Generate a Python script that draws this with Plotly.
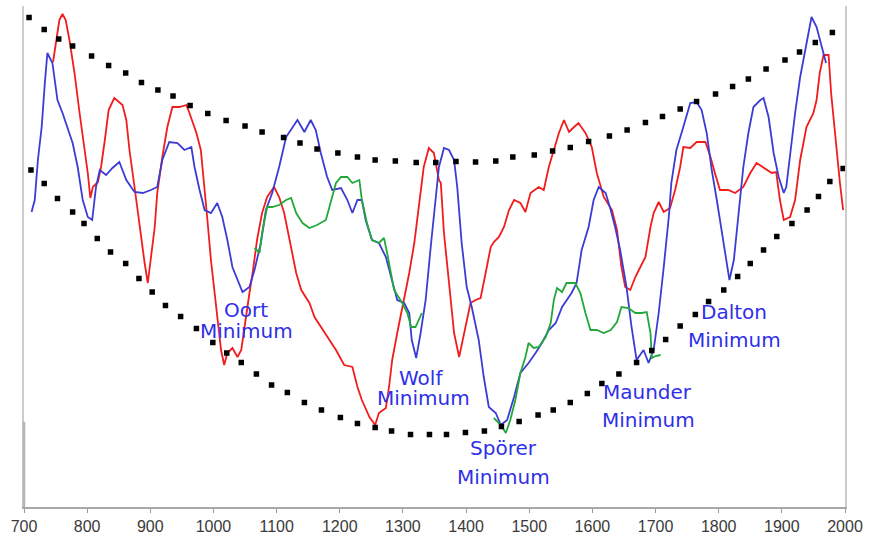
import plotly.graph_objects as go

# Reconstructed records (index units, 0-100)
red_year = [746, 751, 756, 761, 766, 772, 780, 788, 796, 801, 805, 809, 817, 822, 828, 834, 843, 856, 862,
            867, 875, 883, 891, 896, 901, 907, 911, 919, 927, 935, 946, 957, 962, 973, 980, 986, 990, 996,
            1001, 1006, 1012, 1017, 1022, 1030, 1038, 1044, 1049, 1057, 1062, 1069, 1077, 1085, 1096, 1104,
            1112, 1120, 1131, 1139, 1152, 1160, 1170, 1183, 1194, 1207, 1220, 1228, 1235, 1247, 1256, 1262,
            1273, 1278, 1283, 1291, 1299, 1310, 1318, 1326, 1333, 1341, 1349, 1357, 1360, 1365, 1373, 1381,
            1389, 1397, 1407, 1415, 1423, 1431, 1439, 1444, 1452, 1460, 1468, 1476, 1486, 1494, 1502, 1515,
            1523, 1531, 1539, 1547, 1555, 1563, 1571, 1578, 1589, 1599, 1607, 1618, 1631, 1639, 1646, 1652,
            1660, 1668, 1676, 1684, 1692, 1697, 1705, 1713, 1723, 1731, 1739, 1744, 1755, 1765, 1779, 1787,
            1794, 1802, 1815, 1826, 1839, 1850, 1860, 1871, 1884, 1891, 1897, 1903, 1913, 1921, 1929, 1939,
            1950, 1955, 1960, 1966, 1974, 1978, 1984, 1992, 1997]
red_val = [89.0, 93.4, 97.4, 98.6, 97.4, 93.4, 86.8, 78.8, 71.4, 66.8, 61.8, 64.0, 65.0, 68.0, 73.4, 79.4,
           81.8, 80.4, 77.4, 71.4, 64.0, 56.0, 48.8, 44.8, 49.4, 56.0, 62.8, 70.0, 76.0, 80.0, 80.0, 80.4,
           78.8, 74.8, 71.4, 64.0, 58.0, 49.4, 44.0, 38.0, 31.4, 28.4, 30.8, 31.8, 30.0, 31.4, 36.0, 42.8,
           46.8, 53.4, 58.8, 62.0, 64.0, 62.0, 58.8, 53.4, 46.8, 43.4, 40.8, 38.0, 36.0, 33.4, 31.4, 28.4,
           28.0, 24.0, 21.4, 18.0, 16.4, 18.8, 19.8, 24.0, 29.4, 34.8, 40.0, 46.8, 52.8, 61.4, 68.0, 71.8,
           70.8, 65.4, 64.8, 54.8, 44.8, 34.8, 30.0, 34.8, 40.8, 41.4, 41.8, 46.8, 52.0, 53.0, 54.0, 56.0,
           59.4, 61.4, 60.8, 59.0, 62.8, 64.0, 63.4, 68.0, 71.4, 74.8, 77.4, 75.0, 76.0, 76.8, 74.8, 72.0,
           66.8, 62.0, 59.4, 55.4, 48.0, 44.0, 43.4, 46.0, 48.0, 50.0, 56.0, 58.8, 61.0, 59.0, 59.8, 63.4,
           68.0, 72.0, 71.8, 73.0, 73.0, 70.0, 66.8, 63.4, 63.4, 62.8, 64.0, 66.8, 68.8, 67.8, 66.8, 67.0,
           61.4, 57.4, 58.0, 61.4, 69.4, 76.0, 78.8, 81.4, 86.8, 90.4, 90.4, 82.8, 74.8, 64.8, 59.4]

blue_year = [712, 717, 722, 728, 733, 737, 745, 753, 761, 769, 777, 785, 793, 801, 808, 814, 820, 830, 840,
             851, 862, 875, 888, 901, 911, 919, 930, 943, 954, 965, 970, 978, 986, 996, 1006, 1014, 1022,
             1030, 1036, 1046, 1057, 1065, 1075, 1083, 1093, 1104, 1115, 1123, 1133, 1144, 1154, 1162, 1170,
             1180, 1188, 1202, 1212, 1220, 1228, 1235, 1241, 1251, 1262, 1273, 1283, 1291, 1302, 1310, 1314,
             1321, 1328, 1336, 1344, 1349, 1357, 1365, 1373, 1381, 1386, 1393, 1401, 1409, 1420, 1428, 1436,
             1447, 1455, 1465, 1476, 1486, 1499, 1510, 1520, 1531, 1542, 1552, 1567, 1575, 1583, 1594, 1602,
             1610, 1621, 1629, 1636, 1644, 1654, 1662, 1670, 1681, 1689, 1697, 1705, 1713, 1721, 1725, 1733,
             1744, 1755, 1765, 1773, 1781, 1789, 1797, 1805, 1812, 1817, 1824, 1831, 1839, 1847, 1855, 1866,
             1871, 1879, 1887, 1895, 1903, 1907, 1913, 1921, 1929, 1939, 1947, 1955, 1963, 1970]
blue_val = [59.0, 61.4, 69.4, 76.0, 84.8, 90.8, 88.8, 81.4, 78.8, 76.0, 72.8, 68.0, 61.4, 58.0, 57.4, 64.0,
            67.4, 66.4, 67.8, 69.0, 65.4, 63.0, 62.8, 63.4, 64.0, 69.4, 73.0, 72.8, 71.4, 72.0, 68.0, 63.4,
            59.4, 58.8, 60.8, 58.0, 53.4, 48.0, 46.0, 43.0, 44.0, 47.4, 52.8, 59.4, 62.8, 68.0, 74.0, 75.4,
            77.4, 75.0, 77.4, 75.4, 70.8, 66.0, 63.4, 63.8, 61.4, 58.8, 61.4, 61.4, 57.4, 53.4, 52.8, 50.0,
            45.4, 41.4, 40.8, 38.8, 33.4, 29.8, 34.8, 41.4, 52.0, 58.0, 68.0, 71.8, 71.4, 69.4, 64.0, 52.8,
            44.0, 40.0, 33.4, 26.0, 20.0, 18.8, 16.4, 17.4, 22.0, 26.8, 28.8, 30.8, 32.8, 35.4, 36.8, 40.0,
            42.8, 44.8, 51.4, 56.0, 61.4, 64.0, 62.8, 59.4, 56.0, 51.4, 44.0, 36.0, 29.4, 31.4, 28.8, 31.4,
            38.8, 48.0, 58.0, 64.8, 71.4, 76.0, 80.8, 81.0, 79.4, 74.8, 67.4, 61.4, 54.8, 48.8, 45.4, 49.4,
            58.0, 68.0, 74.8, 80.0, 81.4, 81.8, 78.0, 70.8, 66.0, 62.8, 64.0, 70.8, 78.8, 86.0, 92.8, 98.0,
            96.0, 92.0, 88.8]

green_year = [1065, 1073, 1077, 1085, 1093, 1104, 1115, 1123, 1131, 1141, 1152, 1164, 1178, 1186, 1194, 1202,
              1212, 1220, 1231, 1235, 1243, 1251, 1262, 1270, 1275, 1286, 1299, 1307, 1313, 1320, 1330, 1387,
              1444, 1455, 1463, 1470, 1478, 1486, 1494, 1499, 1507, 1515, 1526, 1534, 1539, 1544, 1552, 1559,
              1573, 1581, 1589, 1597, 1607, 1618, 1629, 1639, 1646, 1657, 1668, 1678, 1686, 1692, 1694, 1700,
              1708]
green_val = [51.8, 50.8, 54.8, 60.0, 60.0, 60.4, 61.4, 61.8, 58.8, 56.8, 55.8, 56.4, 57.4, 61.4, 64.8, 66.0,
             66.0, 64.8, 65.4, 61.4, 56.8, 53.4, 52.8, 53.8, 50.8, 43.4, 40.8, 38.8, 36.0, 36.0, 38.8, None,
             17.8, 16.4, 14.8, 17.4, 21.4, 26.8, 30.0, 32.8, 31.8, 32.0, 34.0, 36.8, 41.4, 43.8, 43.0, 44.8,
             44.8, 42.8, 38.8, 35.4, 35.4, 34.8, 35.4, 37.0, 40.0, 39.8, 38.8, 38.8, 39.0, 34.8, 29.8, 30.2,
             30.4]

# Upper and lower envelopes
upper_year = [708, 732, 755, 777, 807, 834, 861, 886, 912, 936, 963, 991, 1020, 1050, 1077, 1111, 1137, 1164,
              1197, 1228, 1256, 1288, 1321, 1352, 1384, 1415, 1447, 1474, 1508, 1537, 1565, 1594, 1627, 1655,
              1684, 1711, 1739, 1765, 1795, 1822, 1847, 1875, 1905, 1928, 1953, 1980]
upper_val = [97.9, 95.5, 93.6, 92.2, 90.2, 88.3, 86.8, 84.9, 83.4, 82.2, 80.3, 78.7, 77.3, 76.2, 75.0, 73.9,
             72.8, 71.6, 70.8, 70.0, 69.4, 69.2, 68.9, 68.9, 69.1, 69.0, 69.2, 70.0, 70.4, 71.2, 71.9, 73.1,
             74.2, 75.4, 76.9, 78.1, 79.6, 81.1, 82.6, 84.1, 85.6, 87.6, 89.4, 91.0, 92.9, 94.9]

lower_year = [711, 732, 753, 777, 795, 816, 837, 861, 882, 903, 924, 948, 973, 999, 1021, 1044, 1068, 1092,
              1117, 1144, 1171, 1201, 1228, 1256, 1282, 1312, 1342, 1369, 1399, 1429, 1456, 1484, 1514, 1538,
              1565, 1592, 1615, 1642, 1670, 1694, 1716, 1739, 1763, 1784, 1808, 1830, 1850, 1871, 1892, 1916,
              1940, 1958, 1976, 1997]
lower_val = [67.4, 64.7, 61.7, 59.0, 56.7, 53.7, 51.0, 48.7, 45.7, 43.0, 40.3, 38.1, 35.7, 32.9, 30.8, 28.9,
             26.6, 24.4, 22.9, 20.9, 19.4, 17.9, 16.7, 15.9, 15.2, 14.5, 14.5, 14.5, 14.9, 15.2, 16.1, 17.1,
             18.4, 19.4, 20.9, 22.7, 24.7, 26.6, 28.9, 31.3, 33.5, 36.2, 38.5, 41.1, 43.4, 46.1, 48.7, 51.4,
             54.1, 56.7, 59.4, 62.1, 65.1, 67.7]

x_ticks = [700, 800, 900, 1000, 1100, 1200, 1300, 1400, 1500, 1600, 1700, 1800, 1900, 2000]

RED = "#f21c1c"
BLUE = "#3c3cd4"
GREEN = "#22a83a"
LABEL = "#2f2fe8"
FRAME = "#cccccc"

fig = go.Figure()
fig.add_trace(go.Scatter(x=red_year, y=red_val, mode="lines", line=dict(color=RED, width=1.8)))
fig.add_trace(go.Scatter(x=blue_year, y=blue_val, mode="lines", line=dict(color=BLUE, width=1.8)))
fig.add_trace(go.Scatter(x=green_year, y=green_val, mode="lines", line=dict(color=GREEN, width=1.8),
                         connectgaps=False))
for yr, vals in ((upper_year, upper_val), (lower_year, lower_val)):
    fig.add_trace(go.Scatter(x=yr, y=vals, mode="markers",
                             marker=dict(symbol="square", size=5.5, color="black", line=dict(width=0))))

# Named minima, one annotation per text line
labels = [
    ("Oort", 1052, 39.4), ("Minimum", 1052, 35.2),
    ("Wolf", 1328, 25.8), ("Minimum", 1333, 21.8),
    ("Spörer", 1460, 11.8), ("Minimum", 1460, 6.0),
    ("Maunder", 1687, 23.0), ("Minimum", 1689, 17.4),
    ("Dalton", 1825, 39.0), ("Minimum", 1825, 33.4),
]
for text, x, y in labels:
    fig.add_annotation(x=x, y=y, text=text, showarrow=False, xanchor="center", yanchor="middle",
                       font=dict(family="DejaVu Sans", size=20, color=LABEL))

# Darker stub at the foot of the left frame edge
fig.add_shape(type="line", xref="paper", yref="paper", x0=0, y0=0, x1=0, y1=0.17,
              line=dict(color="#b4b4b4", width=2.5), layer="above")

fig.update_layout(
    width=869, height=542,
    margin=dict(l=24, r=22, t=6, b=35),
    paper_bgcolor="white", plot_bgcolor="white",
    showlegend=False,
    xaxis=dict(range=[700, 2000], tickvals=x_ticks, ticktext=[str(t) for t in x_ticks],
               showgrid=False, zeroline=False, showline=True, linecolor="#a8a8a8", linewidth=2,
               ticks="outside", ticklen=4, tickcolor="#999999", tickwidth=1,
               tickfont=dict(family="Liberation Sans", size=16, color="#3a3a3a")),
    # top edge of the frame, drawn by an empty overlaying axis
    xaxis2=dict(range=[700, 2000], overlaying="x", side="top", showline=True, linecolor=FRAME,
                linewidth=2, showticklabels=False, ticks="", showgrid=False, zeroline=False),
    yaxis=dict(range=[0, 100.2], showgrid=False, zeroline=False, showticklabels=False,
               showline=True, mirror=True, linecolor=FRAME, linewidth=2, ticks=""),
)

fig.write_html("out.html")
